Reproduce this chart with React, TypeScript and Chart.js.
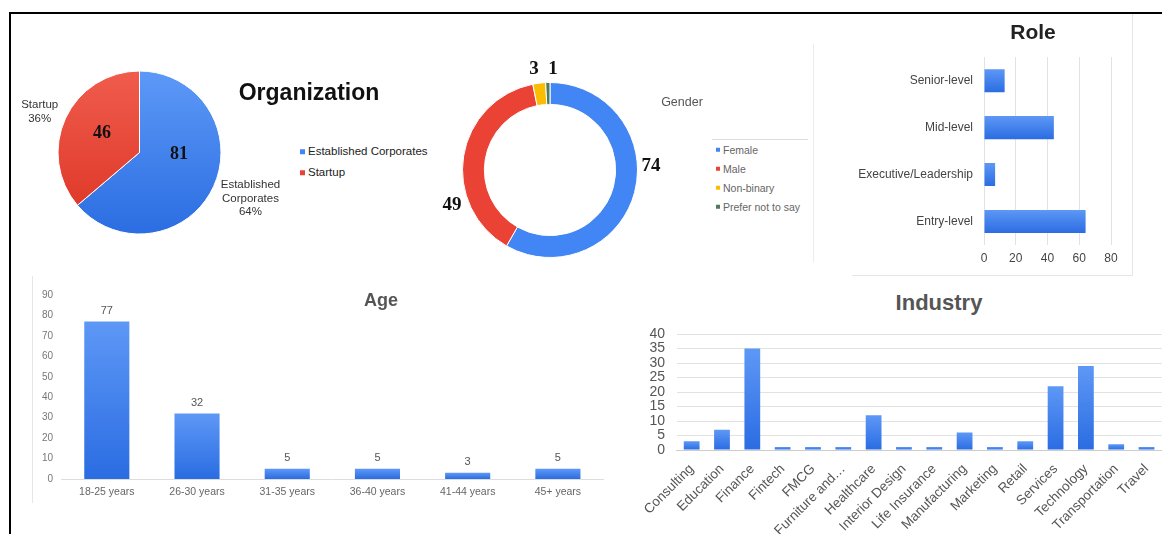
import React, { useEffect, useRef } from "react";
import { Chart, registerables } from "chart.js";

Chart.register(...registerables);

const FONT = "'Liberation Sans', Arial, Helvetica, sans-serif";
const SERIF = "'Liberation Serif', 'Times New Roman', serif";

// ---------- data ----------
const orgLabels = ["Established Corporates", "Startup"];
const orgValues = [81, 46];

const genderLabels = ["Female", "Male", "Non-binary", "Prefer not to say"];
const genderValues = [74, 49, 3, 1];

const roleLabels = ["Senior-level", "Mid-level", "Executive/Leadership", "Entry-level"];
const roleValues = [13, 44, 7, 64];
const roleAxis = { min: 0, max: 80, step: 20 };

const ageLabels = ["18-25 years", "26-30 years", "31-35 years", "36-40 years", "41-44 years", "45+ years"];
const ageValues = [77, 32, 5, 5, 3, 5];
const ageAxis = { min: 0, max: 90, step: 10 };

const industryLabels = [
  "Consulting", "Education", "Finance", "Fintech", "FMCG", "Furniture and…", "Healthcare",
  "Interior Design", "Life Insurance", "Manufacturing", "Marketing", "Retail", "Services",
  "Technology", "Transportation", "Travel",
];
const industryValues = [3, 7, 35, 1, 1, 1, 12, 1, 1, 6, 1, 3, 22, 29, 2, 1];
const industryAxis = { min: 0, max: 40, step: 5 };

// ---------- colours ----------
const orgColors = ["#4285f4", "#ea4335"];
const orgGradients: [string, string][] = [["#5d99f7", "#2b6de2"], ["#f05c4d", "#dc3323"]];
const genderColors = ["#4285f4", "#ea4335", "#fbbc04", "#4f7a60"];
const barTop = "#5e98f6";
const barBottom = "#2a6ce2";

// ---------- helpers ----------
function vBarFill(ctx: any) {
  const chart = ctx.chart;
  if (!chart.chartArea || ctx.type !== "data" || !ctx.parsed) return "#3b7ff0";
  const ys = chart.scales.y;
  const top = ys.getPixelForValue(ctx.parsed.y);
  const base = ys.getPixelForValue(0);
  const g = chart.ctx.createLinearGradient(0, top, 0, Math.max(base, top + 1));
  g.addColorStop(0, barTop);
  g.addColorStop(1, barBottom);
  return g;
}

function hBarFill(ctx: any) {
  const chart = ctx.chart;
  if (!chart.chartArea || ctx.type !== "data") return "#3b7ff0";
  const ys = chart.scales.y;
  const c = ys.getPixelForValue(ctx.dataIndex);
  const half = ys.height / roleLabels.length / 4;
  const g = chart.ctx.createLinearGradient(0, c - half, 0, c + half);
  g.addColorStop(0, barTop);
  g.addColorStop(1, barBottom);
  return g;
}

function pieFill(ctx: any) {
  const chart = ctx.chart;
  const a = chart.chartArea;
  const pair = orgGradients[ctx.dataIndex % orgGradients.length];
  if (!a) return pair[0];
  const g = chart.ctx.createLinearGradient(0, a.top, 0, a.bottom);
  g.addColorStop(0, pair[0]);
  g.addColorStop(1, pair[1]);
  return g;
}

const pieOuterLabels = {
  id: "pieOuterLabels",
  afterDatasetsDraw(chart: any) {
    const meta = chart.getDatasetMeta(0);
    const data = chart.data.datasets[0].data as number[];
    const total = data.reduce((s, v) => s + v, 0);
    const c = chart.ctx;
    c.save();
    c.font = `11.5px ${FONT}`;
    c.fillStyle = "#333";
    c.textAlign = "center";
    c.textBaseline = "middle";
    meta.data.forEach((arc: any, i: number) => {
      const p = arc.getProps(["x", "y", "startAngle", "endAngle", "outerRadius"], true);
      const mid = (p.startAngle + p.endAngle) / 2;
      const ax = p.x + Math.cos(mid) * (p.outerRadius + 8);
      const ay = p.y + Math.sin(mid) * (p.outerRadius + 8);
      const label = String(chart.data.labels[i]);
      const lines = [...label.split(" "), Math.round((data[i] / total) * 100) + "%"];
      const w = Math.max(...lines.map((l) => c.measureText(l).width));
      const cx = Math.cos(mid) >= 0 ? ax + w / 2 : ax - w / 2;
      const lh = 13.5;
      const cy = ay + Math.sin(mid) * 14 + 2.5;
      const y0 = cy - ((lines.length - 1) * lh) / 2;
      lines.forEach((l, k) => c.fillText(l, cx, y0 + k * lh));
    });
    c.restore();
  },
};

const barValueLabels = {
  id: "barValueLabels",
  afterDatasetsDraw(chart: any) {
    const c = chart.ctx;
    const meta = chart.getDatasetMeta(0);
    const data = chart.data.datasets[0].data as number[];
    c.save();
    c.font = `11px ${FONT}`;
    c.fillStyle = "#555";
    c.textAlign = "center";
    c.textBaseline = "middle";
    meta.data.forEach((el: any, i: number) => c.fillText(String(data[i]), el.x, el.y - 11));
    c.restore();
  },
};

function ChartBox({ x, y, w, h, make }: { x: number; y: number; w: number; h: number; make: () => any }) {
  const ref = useRef<HTMLCanvasElement>(null);
  useEffect(() => {
    const chart = new Chart(ref.current as HTMLCanvasElement, make());
    return () => chart.destroy();
  }, []);
  return (
    <canvas
      ref={ref}
      width={w}
      height={h}
      style={{ position: "absolute", left: x, top: y, width: w, height: h }}
    />
  );
}

function T({ x, y, children, style }: { x: number; y: number; children: any; style?: any }) {
  return (
    <div
      style={{
        position: "absolute",
        left: x,
        top: y,
        transform: "translate(-50%, -50%)",
        whiteSpace: "nowrap",
        lineHeight: 1,
        ...style,
      }}
    >
      {children}
    </div>
  );
}

function L({ x, y, color, text, size, textColor, sq }: any) {
  return (
    <div
      style={{
        position: "absolute",
        left: x,
        top: y,
        transform: "translateY(-50%)",
        display: "flex",
        alignItems: "center",
        whiteSpace: "nowrap",
        fontFamily: FONT,
        fontSize: size,
        color: textColor,
        lineHeight: 1,
      }}
    >
      <span style={{ display: "inline-block", width: sq, height: sq, background: color, marginRight: 3 }} />
      {text}
    </div>
  );
}

// ---------- chart configs ----------
const orgConfig = () => ({
  type: "pie",
  data: {
    labels: orgLabels,
    datasets: [{ data: orgValues, backgroundColor: pieFill, borderColor: "#ffffff", borderWidth: 1 }],
  },
  options: {
    responsive: false,
    animation: false,
    layout: { padding: { left: 57.5, right: 78.5, top: 20.5, bottom: 25.5 } },
    plugins: { legend: { display: false }, tooltip: { enabled: false } },
  },
  plugins: [pieOuterLabels],
});

const genderConfig = () => ({
  type: "doughnut",
  data: {
    labels: genderLabels,
    datasets: [{ data: genderValues, backgroundColor: genderColors, borderColor: "#ffffff", borderWidth: 1 }],
  },
  options: {
    responsive: false,
    animation: false,
    cutout: "75%",
    layout: { padding: { left: 22, right: 32, top: 27, bottom: 12 } },
    plugins: { legend: { display: false }, tooltip: { enabled: false } },
  },
});

const roleConfig = () => ({
  type: "bar",
  data: {
    labels: roleLabels,
    datasets: [{ data: roleValues, backgroundColor: hBarFill, barPercentage: 0.6, categoryPercentage: 0.82 }],
  },
  options: {
    indexAxis: "y",
    responsive: false,
    animation: false,
    layout: { padding: { left: 0, right: 21, top: 0, bottom: 0 } },
    plugins: { legend: { display: false }, tooltip: { enabled: false } },
    scales: {
      x: {
        min: roleAxis.min,
        max: roleAxis.max,
        ticks: { stepSize: roleAxis.step, padding: 6, color: "#444", font: { family: FONT, size: 12 } },
        grid: { color: "#e2e2e2", drawTicks: false },
        border: { display: false },
        afterFit: (s: any) => { s.height = 30; },
      },
      y: {
        ticks: { padding: 11, color: "#444", font: { family: FONT, size: 12 } },
        grid: { display: false, drawTicks: false },
        border: { display: false },
        afterFit: (s: any) => { s.width = 134; },
      },
    },
  },
});

const ageConfig = () => ({
  type: "bar",
  data: {
    labels: ageLabels,
    datasets: [{ data: ageValues, backgroundColor: vBarFill, barPercentage: 0.625, categoryPercentage: 0.8 }],
  },
  options: {
    responsive: false,
    animation: false,
    layout: { padding: { left: 0, right: 10, top: 15, bottom: 0 } },
    plugins: { legend: { display: false }, tooltip: { enabled: false } },
    scales: {
      x: {
        ticks: { padding: 6.4, color: "#666", font: { family: FONT, size: 10.5 }, maxRotation: 0 },
        grid: { display: false, drawTicks: false },
        border: { display: true, color: "#dddddd", width: 1 },
        afterFit: (s: any) => { s.height = 31; },
      },
      y: {
        min: ageAxis.min,
        max: ageAxis.max,
        ticks: { stepSize: ageAxis.step, padding: 8.7, color: "#777", font: { family: FONT, size: 10 } },
        grid: { display: false, drawTicks: false },
        border: { display: false },
        afterFit: (s: any) => { s.width = 28.7; },
      },
    },
  },
  plugins: [barValueLabels],
});

const industryConfig = () => ({
  type: "bar",
  data: {
    labels: industryLabels,
    datasets: [{ data: industryValues, backgroundColor: vBarFill, barPercentage: 0.65, categoryPercentage: 0.8 }],
  },
  options: {
    responsive: false,
    animation: false,
    layout: { padding: { left: 0, right: 0, top: 0, bottom: 0 } },
    plugins: { legend: { display: false }, tooltip: { enabled: false } },
    scales: {
      x: {
        ticks: {
          padding: 11,
          color: "#555",
          font: { family: FONT, size: 13.5 },
          minRotation: 45,
          maxRotation: 45,
          autoSkip: false,
        },
        grid: { display: false, drawTicks: false },
        border: { display: true, color: "#cccccc", width: 1 },
        afterFit: (s: any) => { s.height = 84; },
      },
      y: {
        min: industryAxis.min,
        max: industryAxis.max,
        ticks: {
          stepSize: industryAxis.step,
          padding: 11.5,
          color: "#555",
          font: { family: FONT, size: 14, lineHeight: 0.8 },
        },
        grid: { color: "#e2e2e2", drawTicks: false },
        border: { display: false },
        afterFit: (s: any) => { s.width = 56.5; },
      },
    },
  },
});

// ---------- app ----------
export default function App() {
  const line = (x: number, y: number, w: number, h: number, c = "#e6e6e6") => (
    <div style={{ position: "absolute", left: x, top: y, width: w, height: h, background: c }} />
  );
  return (
    <div
      style={{
        position: "absolute",
        left: 0,
        top: 0,
        width: 1162,
        height: 534,
        background: "#ffffff",
        overflow: "hidden",
        fontFamily: FONT,
      }}
    >
      {/* frame */}
      <div
        style={{
          position: "absolute",
          left: 9,
          top: 12,
          width: 1200,
          height: 600,
          borderTop: "2px solid #000",
          borderLeft: "2px solid #000",
        }}
      />
      {/* light panel borders */}
      {line(32, 276, 1, 227)}
      {line(813, 44, 1, 218, "#ececec")}
      {line(1132, 14, 1, 261)}
      {line(852, 275, 281, 1)}

      <ChartBox x={0} y={50} w={300} h={210} make={orgConfig} />
      <ChartBox x={440} y={55} w={230} h={215} make={genderConfig} />
      <ChartBox x={850} y={39} w={282} h={236} make={roleConfig} />
      <ChartBox x={33} y={280} w={580} h={230} make={ageConfig} />
      <ChartBox x={620} y={317} w={549} h={217} make={industryConfig} />

      {/* titles */}
      <T x={309} y={92} style={{ fontSize: 23, fontWeight: 700, color: "#111" }}>Organization</T>
      <T x={1033} y={31} style={{ fontSize: 21, fontWeight: 700, color: "#222" }}>Role</T>
      <T x={381} y={300} style={{ fontSize: 18, fontWeight: 700, color: "#555" }}>Age</T>
      <T x={939} y={303} style={{ fontSize: 22, fontWeight: 700, color: "#555" }}>Industry</T>
      <T x={682} y={102} style={{ fontSize: 12.5, color: "#555" }}>Gender</T>

      {/* organization legend */}
      <L x={300} y={151.5} color={orgColors[0]} text={orgLabels[0]} size={11.5} textColor="#222" sq={5} />
      <L x={300} y={172.5} color={orgColors[1]} text={orgLabels[1]} size={11.5} textColor="#222" sq={5} />

      {/* gender legend */}
      {line(712, 139, 96, 1, "#dddddd")}
      {genderLabels.map((g, i) => (
        <L key={g} x={716} y={[150, 169, 188, 207][i]} color={genderColors[i]} text={g} size={10.5} textColor="#666" sq={4} />
      ))}

      {/* annotated values */}
      <T x={102} y={132} style={{ fontFamily: SERIF, fontWeight: 700, fontSize: 18, color: "#111" }}>{orgValues[1]}</T>
      <T x={179} y={153} style={{ fontFamily: SERIF, fontWeight: 700, fontSize: 18, color: "#111" }}>{orgValues[0]}</T>
      <T x={651} y={164} style={{ fontFamily: SERIF, fontWeight: 700, fontSize: 19, color: "#111" }}>{genderValues[0]}</T>
      <T x={452} y={203} style={{ fontFamily: SERIF, fontWeight: 700, fontSize: 19, color: "#111" }}>{genderValues[1]}</T>
      <T x={534} y={67} style={{ fontFamily: SERIF, fontWeight: 700, fontSize: 19, color: "#111" }}>{genderValues[2]}</T>
      <T x={553} y={67} style={{ fontFamily: SERIF, fontWeight: 700, fontSize: 19, color: "#111" }}>{genderValues[3]}</T>
    </div>
  );
}
